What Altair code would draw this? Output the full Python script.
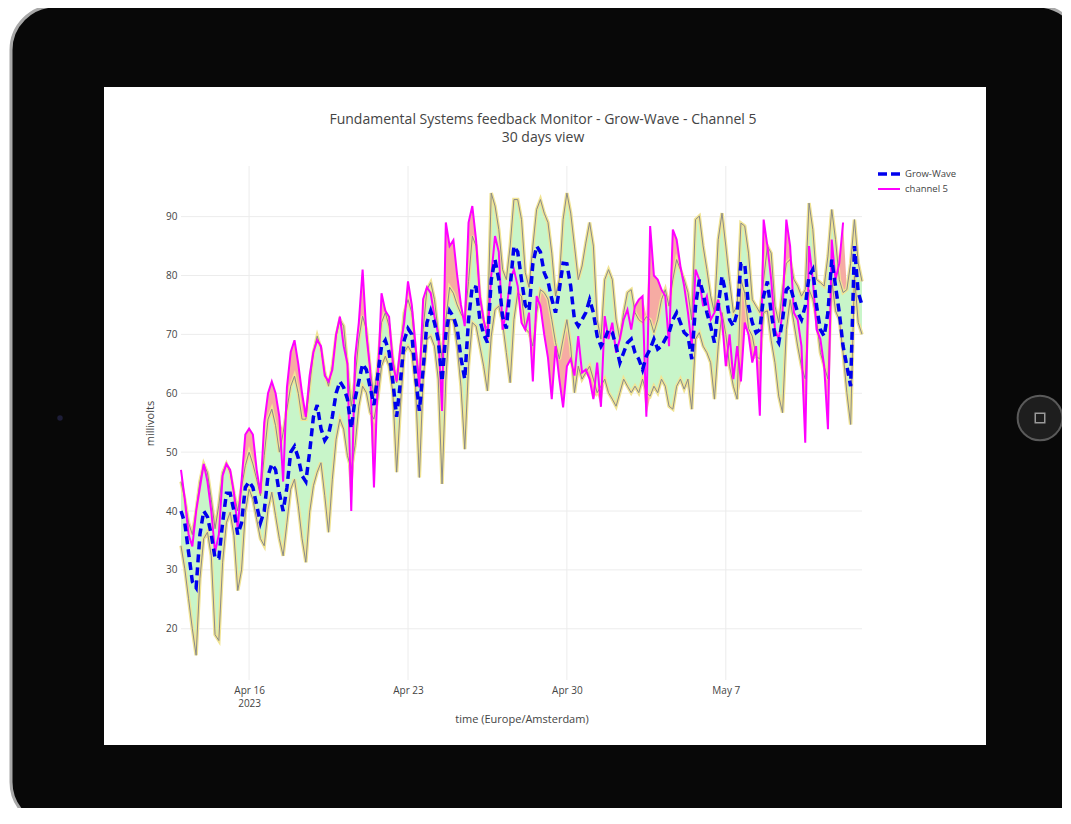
import altair as alt
import pandas as pd

TITLE = "Fundamental Systems feedback Monitor - Grow-Wave - Channel 5"
SUBTITLE = "30 days view"
X_TITLE = "time (Europe/Amsterdam)"
Y_TITLE = "millivolts"
SERIES = ["Grow-Wave", "channel 5"]
START = "2023-04-13 00:00"

# upper band (outer gray line), read every 4 hours from Apr 13 00:00
upper = [45, 42, 38, 36, 40,
         45, 48, 46.5, 42, 37, 41,
         46.5, 48, 46.5, 43, 40, 44,
         47.7, 50, 48, 45.4, 42.6, 49.4,
         55.6, 57.3, 54.5, 50, 53.3, 57.3,
         61.2, 62.9, 60, 55.6, 55.6, 61.2,
         66.9, 69.7, 67.5, 63.5, 61.2, 64.6,
         69.7, 72.5, 71.4, 64.6, 57.8, 62.4,
         69.2, 73.1, 70.8, 64, 59.5, 64.6,
         72, 73.7, 71.4, 65.8, 61.8, 66.9,
         73.7, 75.9, 73.7, 66.9, 62.9, 70.8,
         77.6, 78.8, 75.9, 70.3, 66, 72.5,
         78, 77, 75, 73.5, 72.5, 79,
         86.7, 85, 76.5, 72, 71, 94,
         91.8, 87.8, 81, 79.3, 85, 92.9,
         92.9, 89.5, 80.5, 78, 85, 91.2,
         92.9, 90.6, 89, 83.8, 76.5, 79.3, 89.5,
         94, 90.6, 85, 79.3, 81.6, 85.5,
         89, 85, 72.5, 69.2, 79.3, 81,
         79.3, 72.5, 69.2, 73.7, 77.1, 77.6,
         73.7, 72.5, 72, 73, 72.5, 70.3,
         72.5, 75.9, 77.6, 74.8, 79.3, 82.7,
         81, 79.3, 77.1, 72.5, 89.5, 90.1,
         85, 81, 76.5, 73.7, 86.1, 90.6,
         85, 79, 73.7, 74.8, 88.9, 88.4,
         83.8, 75.9, 74.8, 73.7, 79.3, 85,
         83.8, 74.8, 72, 77.6, 82.1, 82.7,
         79.3, 78.2, 76.5, 77.6, 92.3, 87.8,
         79.3, 78.8, 78.2, 83.3, 91.2, 86.1,
         79.3, 77.1, 77.6, 82.1, 89.5, 82.1,
         79]

# lower band (outer gray line)
lower = [34.1, 30.2, 25.1, 20, 15.5,
         28.5, 35.3, 36.4, 32.4, 19, 18,
         31.3, 38, 39.8, 35.8, 26.5, 30,
         39.8, 43.7, 42, 38.6, 35.3, 34.1,
         40.3, 43.2, 39.2, 35.3, 32.4, 38,
         43.7, 45.4, 40.9, 35.3, 31.3, 39.8,
         44.3, 46.6, 48.2, 42.6, 36.4, 45.4,
         52.2, 55.6, 53.9, 49.4, 47.1, 51.1,
         57.8, 61.2, 60.1, 56.7, 55.6, 59,
         64.6, 66.3, 64.6, 60.1, 46.6, 58,
         66.9, 68, 66.9, 61.2, 45.7, 62.4,
         69.2, 69.7, 68, 62.4, 44.6, 62.4,
         72.5, 72.5, 68, 61.2, 50.5, 64.6,
         72, 71.4, 68, 64.6, 60.4, 69.7,
         74.2, 74.8, 72, 66.9, 61.8, 72.5,
         77.1, 76.5, 71, 70.3, 68, 73.7,
         77.6, 77.1, 76, 72.5, 68.6, 65.8, 69.2,
         72.5, 68, 60.1, 64.6, 62.4, 63.5,
         64.6, 62.4, 60.1, 61.2, 62.4, 60.1,
         59, 57.8, 60.1, 62.4, 61.2, 60.1,
         61.2, 60.1, 62.4, 60.1, 59.5, 61.2,
         60.1, 62.4, 61.2, 57.8, 57.3, 61.2,
         62.4, 60.7, 62.4, 57.3, 69.2, 70.3,
         68, 66.9, 65.2, 59, 68, 73.7,
         70, 64.6, 61.2, 59, 79.3, 77,
         71, 69.7, 66.3, 65.8, 73.7, 74,
         69, 65.2, 59.5, 56.7, 70.8, 75.9,
         72, 68, 64.6, 62.4, 77.6, 76,
         72.5, 66.9, 64.6, 62.4, 79.3, 74,
         72.5, 66.9, 60.1, 54.7, 80, 72,
         70]

# Grow-Wave (blue dashed)
grow_wave = [40, 38, 33, 28, 27,
             36, 40, 39, 36, 32, 32,
             38, 43, 43, 40, 36, 38,
             44, 45, 44, 41, 38, 40,
             46, 48, 47, 43, 40, 44,
             50, 51, 49, 46, 45, 50,
             56, 58, 54, 52, 53, 56,
             60, 62, 61, 59, 54, 59,
             62, 65, 64, 61, 58, 63,
             68, 69, 67, 62, 56, 62,
             69, 71, 70, 63, 57, 64,
             72, 74, 72, 69, 62, 70,
             74, 73, 71, 66, 62.4, 72.5,
             78.2, 78, 72.5, 70, 68.6, 79.3,
             82.7, 79.3, 73, 71, 78, 85,
             84, 79.3, 75, 74, 82, 85,
             84, 80.5, 79, 76, 73.7, 77.6, 82.1,
             82, 78.2, 72.5, 71.4, 72.5, 73.7,
             75.9, 73.7, 69.7, 68, 69.2, 70.8,
             70.3, 68, 65.2, 66.9, 68.6, 69.2,
             66.9, 65.8, 64, 66.3, 67.5, 69.2,
             67.5, 68, 69.2, 70.3, 72.5, 73.7,
             72, 70.3, 69.7, 65.8, 74.8, 79.3,
             77.1, 73.7, 71.4, 68.6, 74.8, 79.9,
             77, 72.5, 71.4, 73.7, 82, 82,
             74.8, 72, 70.3, 70.8, 76.5, 79,
             73.7, 69.7, 68.6, 72.5, 77.6, 78.2,
             75.9, 73.7, 72.5, 74.8, 79.9, 81,
             74.8, 70.8, 69.7, 73.7, 82.7, 78.2,
             73.7, 68, 64.6, 61.2, 85, 77.1,
             75]

# channel 5 (magenta)
channel5 = [47, 42, 36, 34, 40,
            44, 48, 45, 40, 33, 36,
            46, 48, 47, 43, 37, 45,
            53, 54, 53, 47, 43, 55,
            60, 62, 60, 56, 45, 61,
            67, 69, 65, 60, 56, 63,
            67, 69, 68, 63, 62, 64,
            70, 73, 68, 65, 40, 66,
            72, 81, 70, 64, 44, 62,
            77, 74, 73, 65, 62, 68,
            72, 79, 75, 68, 61, 76,
            78, 77, 73, 70, 57, 89,
            85, 86, 80, 75, 71.4, 89,
            91.8, 86, 76.5, 72.5, 69.2, 79.9,
            86.7, 84, 70.8, 74, 79.3, 81,
            78.2, 72, 70.8, 73.7, 62, 76.5,
            74.8, 70, 66, 59, 68, 62.4, 57.6,
            64.6, 65.8, 63, 69.7, 63.5, 64,
            62.4, 59, 65.2, 57.7, 73.1, 69.2,
            72, 66.9, 69.2, 72.5, 74.2, 70.8,
            74.8, 75.9, 76.5, 56, 88.4, 80,
            79.3, 77.6, 76.5, 68, 87.8, 86.1,
            81.6, 78.2, 73.7, 68, 81, 79.3,
            74.8, 76.5, 72.5, 73.7, 75.9, 72.5,
            64.6, 70, 62.4, 68, 62, 72,
            70, 65.2, 68, 56.2, 89.5, 85,
            79.3, 70.8, 69.2, 73.7, 89.5, 85,
            73.7, 72.5, 68, 51.6, 85, 79.3,
            70.8, 69.2, 64.6, 53.9, 86.1, 79.3,
            82.1, 89, None, None, None, None,
            None]

y_ticks = [20, 30, 40, 50, 60, 70, 80, 90]
x_ticks = ["2023-04-16T00:00:00", "2023-04-23T00:00:00",
           "2023-04-30T00:00:00", "2023-05-07T00:00:00"]

n = len(upper)
assert len(lower) == n and len(grow_wave) == n and len(channel5) == n

df = pd.DataFrame({
    "t": pd.date_range(START, periods=n, freq="4h").strftime("%Y-%m-%dT%H:%M:%S"),
    "upper": upper, "lower": lower, "grow": grow_wave, "ch": channel5,
})
one = pd.DataFrame({"k": [0]})
grid_y = pd.DataFrame({"v": y_ticks})
grid_x = pd.DataFrame({"d": x_ticks})

FONT = "Open Sans"
TXT = "#444444"
W, H = 681, 514

xscale = alt.Scale(domain=[alt.DateTime(year=2023, month=4, date=13),
                           alt.DateTime(year=2023, month=5, date=13)], nice=False)
yscale = alt.Scale(domain=[11.3, 98.6], nice=False, zero=False)

label_expr = ("month(datum.value) == 3 && date(datum.value) == 16 ? "
              "[timeFormat(datum.value, '%b ') + date(datum.value), '2023'] : "
              "timeFormat(datum.value, '%b ') + date(datum.value)")

x_axis = alt.Axis(values=[alt.DateTime(year=2023, month=4, date=16),
                          alt.DateTime(year=2023, month=4, date=23),
                          alt.DateTime(year=2023, month=4, date=30),
                          alt.DateTime(year=2023, month=5, date=7)],
                  labelExpr=label_expr, grid=False, domain=False, ticks=False,
                  labelFont=FONT, labelFontSize=10, labelColor=TXT, labelPadding=5,
                  labelLineHeight=13, title=X_TITLE, titleFont=FONT, titleFontSize=11,
                  titleFontWeight="normal", titleColor=TXT, titlePadding=5, zindex=1)
y_axis = alt.Axis(values=y_ticks, grid=False, domain=False, ticks=False,
                  labelFont=FONT, labelFontSize=10, labelColor=TXT, labelPadding=4,
                  title=Y_TITLE, titleFont=FONT, titleFontSize=11,
                  titleFontWeight="normal", titleColor=TXT, titlePadding=10, zindex=1)


def X(field):
    return alt.X(f"{field}:T", scale=xscale, axis=x_axis)


def Y(field):
    return alt.Y(f"{field}:Q", scale=yscale, axis=y_axis)


# device frame (decoration)
body = alt.Chart(one).mark_rect(fill="#080808", stroke="#a8a8a8", strokeWidth=3, cornerRadius=44).encode(
    x=alt.value(-170), x2=alt.value(900), y=alt.value(-160), y2=alt.value(660))
screen = alt.Chart(one).mark_rect(fill="white").encode(
    x=alt.value(-77), x2=alt.value(805), y=alt.value(-79), y2=alt.value(579))
button = alt.Chart(one).mark_circle(size=2000, fill="#1e1e1e", stroke="#5a5a5a", strokeWidth=2, opacity=1).encode(
    x=alt.value(859), y=alt.value(252))
button_icon = alt.Chart(one).mark_point(shape="square", size=90, color="#cfcfcf", strokeWidth=1.5).encode(
    x=alt.value(859), y=alt.value(252))
camera = alt.Chart(one).mark_circle(size=30, color="#1d1d38", opacity=1).encode(
    x=alt.value(-121), y=alt.value(252))

# chart title as text
title_main = alt.Chart(one).mark_text(text=TITLE, align="center", baseline="middle", font=FONT,
                                      fontSize=14, color=TXT).encode(x=alt.value(362), y=alt.value(-46))
title_sub = alt.Chart(one).mark_text(text=SUBTITLE, align="center", baseline="middle", font=FONT,
                                     fontSize=14, color=TXT).encode(x=alt.value(362), y=alt.value(-28))

# grid
gy = alt.Chart(grid_y).mark_rule(color="#ececec", strokeWidth=1).encode(y=Y("v"))
gx = alt.Chart(grid_x).mark_rule(color="#ececec", strokeWidth=1).encode(x=X("d"))

base = alt.Chart(df)
band = base.mark_area(color="#c8f5c9", opacity=1).encode(x=X("t"), y=Y("upper"), y2="lower")
over = base.transform_calculate(
    hi="isValid(datum.ch) ? max(datum.ch, datum.upper) : datum.upper"
).mark_area(color="#f6aba3", opacity=1).encode(x=X("t"), y=Y("upper"), y2="hi:Q")
under = base.transform_calculate(
    lo="isValid(datum.ch) ? min(datum.ch, datum.lower) : datum.lower"
).mark_area(color="#f6aba3", opacity=1).encode(x=X("t"), y=Y("lower"), y2="lo:Q")

halo_u = base.mark_line(color="#f1e494", strokeWidth=3.5).encode(x=X("t"), y=Y("upper"))
halo_l = base.mark_line(color="#f1e494", strokeWidth=3.5).encode(x=X("t"), y=Y("lower"))
edge_u = base.mark_line(color="#8a8a8a", strokeWidth=1).encode(x=X("t"), y=Y("upper"))
edge_l = base.mark_line(color="#8a8a8a", strokeWidth=1).encode(x=X("t"), y=Y("lower"))

ch_line = base.mark_line(color="#ff00ff", strokeWidth=2).encode(x=X("t"), y=Y("ch"))
gw_line = base.mark_line(color="#0000ee", strokeWidth=3.5, strokeDash=[8, 5]).encode(x=X("t"), y=Y("grow"))

# legend (top right)
leg_gw_sym = alt.Chart(one).mark_rule(color="#0000ee", strokeWidth=3.5, strokeDash=[9, 4]).encode(
    x=alt.value(697), x2=alt.value(719), y=alt.value(8))
leg_ch_sym = alt.Chart(one).mark_rule(color="#ff00ff", strokeWidth=2).encode(
    x=alt.value(697), x2=alt.value(719), y=alt.value(23))
leg_gw_txt = alt.Chart(one).mark_text(text=SERIES[0], align="left", baseline="middle", font=FONT,
                                      fontSize=9.5, color=TXT).encode(x=alt.value(724), y=alt.value(8))
leg_ch_txt = alt.Chart(one).mark_text(text=SERIES[1], align="left", baseline="middle", font=FONT,
                                      fontSize=9.5, color=TXT).encode(x=alt.value(724), y=alt.value(23))

chart = alt.layer(
    body, screen, button, button_icon, camera, title_main, title_sub,
    gy, gx,
    band, over, under, halo_u, halo_l, edge_u, edge_l,
    ch_line, gw_line,
    leg_gw_sym, leg_ch_sym, leg_gw_txt, leg_ch_txt,
).properties(
    width=W, height=H,
    autosize=alt.AutoSizeParams(type="none"),
    padding={"left": 173, "top": 158, "right": 200, "bottom": 128},
).configure_view(stroke=None)

chart.save("out.html", embed_options={"renderer": "svg", "actions": False})
